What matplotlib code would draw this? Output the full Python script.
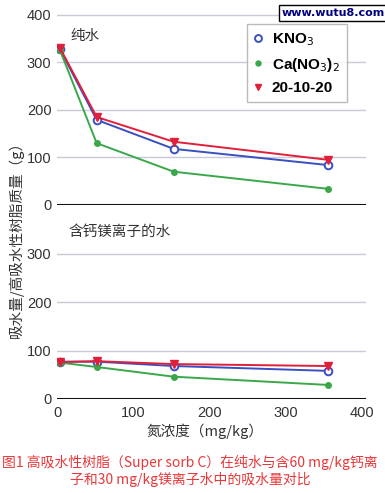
import matplotlib
matplotlib.use("Agg")
import matplotlib.pyplot as plt

plt.rcParams['font.family'] = ['Noto Sans CJK SC', 'DejaVu Sans']

x = [4, 52, 153, 355]
pure_kno3 = [327, 179, 118, 84]
pure_ca = [325, 130, 70, 34]
pure_npk = [330, 185, 133, 95]
hard_kno3 = [77, 77, 68, 58]
hard_ca = [75, 66, 46, 29]
hard_npk = [76, 78, 72, 68]

series_names = ['KNO$_3$', 'Ca(NO$_3$)$_2$', '20-10-20']
xticks = [0, 100, 200, 300, 400]
top_yticks = [0, 100, 200, 300, 400]
bot_yticks = [0, 100, 200, 300]

BLUE = '#3a4fc0'
GREEN = '#3aa84a'
RED = '#e0203a'
GRID = '#c9c9d9'
TXT = '#333333'

W, H = 385, 493
fig = plt.figure(figsize=(W / 100, H / 100), dpi=100)

def px_axes(x0, y_top, x1, y_bot):
    return fig.add_axes([x0 / W, 1 - y_bot / H, (x1 - x0) / W, (y_bot - y_top) / H])

ax1 = px_axes(57, 10, 366, 205)
ax2 = px_axes(57, 205, 366, 399)

def style(ax, yt, ylim):
    ax.set_xlim(0, 405)
    ax.set_ylim(*ylim)
    for s in ax.spines.values():
        s.set_visible(False)
    for v in yt:
        if v == 0:
            ax.axhline(0, color='#111111', lw=2.2, zorder=1)
        else:
            ax.axhline(v, color=GRID, lw=1.0, zorder=0)
    ax.set_yticks(yt)
    ax.set_yticklabels([str(v) for v in yt], fontsize=10.5, color=TXT,
                       family=['Liberation Sans', 'DejaVu Sans'])
    ax.tick_params(axis='y', length=0, pad=4)
    ax.patch.set_alpha(0)

style(ax1, top_yticks, (0, 410))
style(ax2, bot_yticks, (0, 400))
ax1.set_xticks([])
ax2.set_xticks(xticks)
ax2.set_xticklabels([str(v) for v in xticks], fontsize=10.5, color=TXT,
                    family=['Liberation Sans', 'DejaVu Sans'])
ax2.tick_params(axis='x', length=0, pad=5)

def draw(ax, kno3, ca, npk):
    l1, = ax.plot(x, kno3, color=BLUE, lw=1.4, marker='o', ms=5.5, mfc='white',
                  mec=BLUE, mew=1.4, zorder=3)
    l2, = ax.plot(x, ca, color=GREEN, lw=1.4, marker='o', ms=4, mfc=GREEN,
                  mec=GREEN, zorder=3)
    l3, = ax.plot(x, npk, color=RED, lw=1.4, marker='v', ms=5.5, mfc=RED,
                  mec=RED, zorder=4)
    return [l1, l2, l3]

lines = draw(ax1, pure_kno3, pure_ca, pure_npk)
draw(ax2, hard_kno3, hard_ca, hard_npk)

leg = ax1.legend(lines, series_names, loc='upper right', bbox_to_anchor=(0.962, 0.965),
                 prop={'family': ['Liberation Sans', 'DejaVu Sans'], 'weight': 'bold', 'size': 11},
                 frameon=True, fancybox=False, edgecolor='#aaaaaa', handlelength=0.6,
                 handletextpad=0.6, borderpad=0.45, labelspacing=0.5, markerscale=0.9)
for h in leg.legend_handles:
    h.set_linestyle('none')
leg.get_frame().set_linewidth(1.0)

fig.text(70 / W, 1 - 36 / H, '纯水', fontsize=10.5, color=TXT, va='center', ha='left')
fig.text(68 / W, 1 - 232 / H, '含钙镁离子的水', fontsize=10.5, color=TXT, va='center', ha='left')

fig.text(16 / W, 1 - 236 / H, '吸水量/高吸水性树脂质量（g）', rotation=90, fontsize=10.5,
         color=TXT, va='center', ha='center')
fig.text(205 / W, 1 - 431 / H, '氮浓度（mg/kg）', fontsize=10.5, color=TXT, va='center', ha='center')

fig.text(190 / W, 1 - 462 / H, '图1 高吸水性树脂（Super sorb C）在纯水与含60 mg/kg钙离',
         fontsize=10, color='#e8383a', va='center', ha='center')
fig.text(190 / W, 1 - 479 / H, '子和30 mg/kg镁离子水中的吸水量对比',
         fontsize=10, color='#e8383a', va='center', ha='center')

fig.text(333 / W, 1 - 13 / H, 'www.wutu8.com', fontsize=8, color='#000080', weight='bold',
         va='center', ha='center', family=['DejaVu Sans'],
         bbox=dict(boxstyle='square,pad=0.25', fc='white', ec='black', lw=1))

fig.savefig('out.png', dpi=100)
